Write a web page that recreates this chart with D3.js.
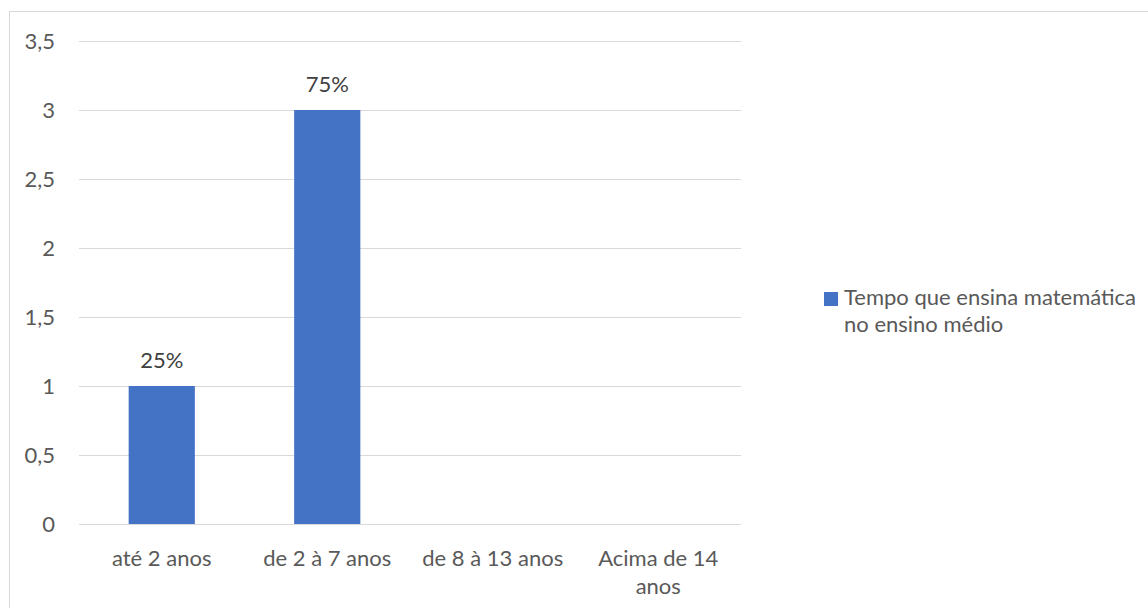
<!DOCTYPE html>
<html>
<head>
<meta charset="utf-8">
<script src="https://cdn.jsdelivr.net/npm/d3@7"></script>
<style>
  html, body { margin: 0; padding: 0; background: #fff; }
  svg { display: block; font-family: Lato, "Open Sans", sans-serif; }
</style>
</head>
<body>
<svg id="chart" width="1148" height="608"></svg>
<script>
// Categories, values and labels
const categories = ["até 2 anos", "de 2 à 7 anos", "de 8 à 13 anos", "Acima de 14 anos"];
const values = [1, 3, 0, 0];
const valueLabels = ["25%", "75%", null, null];
const yTicks = [0, 0.5, 1, 1.5, 2, 2.5, 3, 3.5];
const seriesName = "Tempo que ensina matemática no ensino médio";

const svg = d3.select("#chart");
const textColor = "#595959";
const barColor = "#4472C4";
const fontSize = "22px";

// Outer chart frame
svg.append("rect")
  .attr("x", 9.5).attr("y", 11.5)
  .attr("width", 1160).attr("height", 620)
  .attr("fill", "#fff").attr("stroke", "#d9d9d9").attr("stroke-width", 1);

const plot = { left: 79, right: 741, top: 41, bottom: 524 };

const x = d3.scaleBand()
  .domain(categories)
  .range([plot.left, plot.right])
  .paddingInner(0.6)
  .paddingOuter(0.3);

const y = d3.scaleLinear()
  .domain([0, 3.5])
  .range([plot.bottom, plot.top]);

const fmt = v => String(v).replace(".", ",");

// Gridlines
svg.append("g")
  .selectAll("line")
  .data(yTicks)
  .join("line")
  .attr("x1", plot.left).attr("x2", plot.right)
  .attr("y1", d => Math.round(y(d)) + 0.5).attr("y2", d => Math.round(y(d)) + 0.5)
  .attr("stroke", "#d9d9d9").attr("stroke-width", 1);

// Y axis labels
const yAxis = d3.axisLeft(y).tickValues(yTicks).tickFormat(fmt).tickSize(0).tickPadding(24);
const gy = svg.append("g").attr("transform", `translate(${plot.left},0)`).call(yAxis);
gy.select(".domain").remove();
gy.attr("font-family", null).attr("font-size", null);
gy.selectAll("text")
  .attr("fill", textColor)
  .style("font-size", fontSize);

const rows = categories.map((c, i) => ({ c, v: values[i], label: valueLabels[i] }));

// Bars
svg.append("g")
  .selectAll("rect")
  .data(rows)
  .join("rect")
  .attr("x", d => x(d.c))
  .attr("width", x.bandwidth())
  .attr("y", d => y(d.v))
  .attr("height", d => y(0) - y(d.v))
  .attr("fill", barColor);

// Value labels
svg.append("g")
  .selectAll("text")
  .data(rows.filter(d => d.label))
  .join("text")
  .attr("x", d => x(d.c) + x.bandwidth() / 2)
  .attr("y", d => y(d.v) - 18)
  .attr("text-anchor", "middle")
  .attr("fill", "#404040")
  .style("font-size", fontSize)
  .text(d => d.label);

// X axis labels (wrapped to two lines where needed)
const xLines = {
  "até 2 anos": ["até 2 anos"],
  "de 2 à 7 anos": ["de 2 à 7 anos"],
  "de 8 à 13 anos": ["de 8 à 13 anos"],
  "Acima de 14 anos": ["Acima de 14", "anos"]
};
const xl = svg.append("g")
  .selectAll("text")
  .data(categories)
  .join("text")
  .attr("y", 566)
  .attr("text-anchor", "middle")
  .attr("fill", textColor)
  .style("font-size", fontSize);
xl.each(function(d) {
  const t = d3.select(this);
  xLines[d].forEach((line, i) => {
    t.append("tspan")
      .attr("x", x(d) + x.bandwidth() / 2)
      .attr("dy", i === 0 ? 0 : 28)
      .text(line);
  });
});

// Legend (series name wrapped over two lines)
const legend = svg.append("g");
legend.append("rect")
  .attr("x", 824).attr("y", 292).attr("width", 14).attr("height", 14)
  .attr("fill", barColor);
const lt = legend.append("text")
  .attr("fill", textColor)
  .style("font-size", fontSize);
lt.append("tspan").attr("x", 844).attr("y", 305).text("Tempo que ensina matemática");
lt.append("tspan").attr("x", 844).attr("y", 332).text("no ensino médio");
</script>
</body>
</html>
